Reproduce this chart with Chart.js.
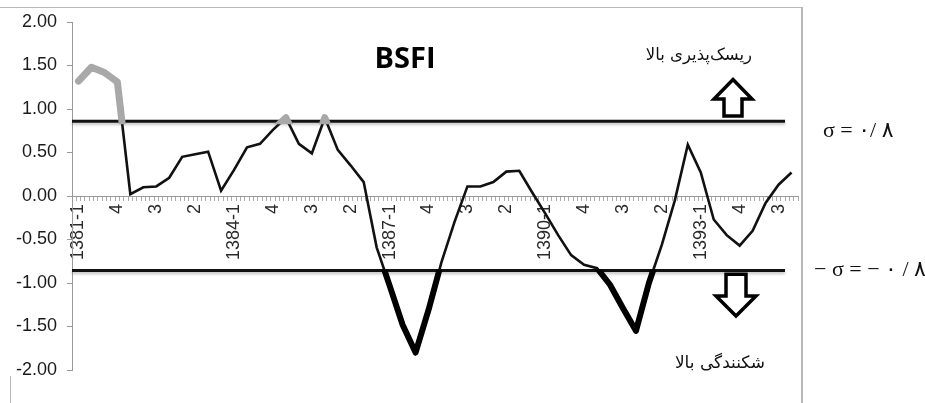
<!DOCTYPE html>
<html>
<head>
<meta charset="utf-8">
<title>BSFI</title>
<script src="https://cdn.jsdelivr.net/npm/chart.js@4.4.1/dist/chart.umd.min.js"></script>
<style>
  body { margin: 0; background: #fff; }
  .wrap { position: relative; width: 925px; height: 403px; overflow: hidden; }
  canvas { position: absolute; left: 0; top: 0; }
  .frame { position: absolute; left: 0; top: 7px; width: 801px; height: 420px;
           border-top: 1px solid #b8b8b8; border-right: 2px solid #b8b8b8; }
  .frame-left { position: absolute; left: 10px; top: 376px; height: 40px; border-left: 1px solid #b8b8b8; }
  .note { position: absolute; white-space: nowrap; line-height: 1; color: #111; }
  #title { left: 405px; top: 37px; transform: translateX(-50%); font: 700 29px 'Open Sans', sans-serif; color: #000; }
  #riskUp { right: 173px; top: 45px; font: 16.5px 'DejaVu Sans', sans-serif; direction: rtl; }
  #fragile { right: 160px; top: 352px; font: 17px 'DejaVu Sans', sans-serif; direction: rtl; }
  #sigUp { left: 823px; top: 117px; font: 22px 'Liberation Serif', 'DejaVu Sans', serif; }
  #sigDown { left: 814px; top: 256px; font: 22px 'Liberation Serif', 'DejaVu Sans', serif; }
</style>
</head>
<body>
<div class="wrap">
  <canvas id="chart" width="925" height="403"></canvas>
  <div class="frame"></div>
  <div class="frame-left"></div>
  <div class="note" id="title">BSFI</div>
  <div class="note" id="riskUp">ریسک‌پذیری بالا</div>
  <div class="note" id="fragile">شکنندگی بالا</div>
  <div class="note" id="sigUp"><bdo dir="ltr">σ = ۰/ ۸</bdo></div>
  <div class="note" id="sigDown"><bdo dir="ltr">− σ = − ۰ / ۸</bdo></div>
</div>
<script>
// --- Data ---
const years = [1381, 1382, 1383, 1384, 1385, 1386, 1387, 1388, 1389, 1390, 1391, 1392, 1393, 1394];
const quarterNames = ['1', '2', '3', '4'];
const categories = years.flatMap(y => quarterNames.map(q => `${y}-${q}`));

const bsfi = [
    1.32, 1.48, 1.42, 1.31, 0.02, 0.10, 0.11, 0.21, 0.45, 0.48, 0.51, 0.06,
    0.30, 0.56, 0.60, 0.76, 0.90, 0.60, 0.49, 0.90, 0.53, 0.35, 0.16, -0.59,
    -1.03, -1.48, -1.80, -1.31, -0.76, -0.30, 0.11, 0.11, 0.16, 0.28, 0.29, 0.04,
    -0.20, -0.45, -0.68, -0.79, -0.83, -1.02, -1.29, -1.55, -1.00, -0.56, -0.05, 0.59,
    0.27, -0.27, -0.45, -0.57, -0.40, -0.08, 0.13, 0.27
];

// every third quarter gets a label, in the order printed on the axis
const shownTicks = ['1381-1', '4', '3', '2', '1384-1', '4', '3', '2', '1387-1', '4', '3', '2',
                    '1390-1', '4', '3', '2', '1393-1', '4', '3'];
const tickEvery = 3;

const yRange = [-2, 2];
const yStep = 0.5;
const sigmaUp = 0.86;
const sigmaDown = -0.855;

// --- Plugins ---
// clip the highlight copies of the line to the area beyond each sigma band
const bandClip = {
    id: 'bandClip',
    beforeDatasetDraw(chart, args) {
        const band = chart.data.datasets[args.index].band;
        if (!band) return;
        const { ctx, chartArea: a, scales: { y } } = chart;
        ctx.save();
        ctx.beginPath();
        if (band === 'up') {
            const yp = y.getPixelForValue(sigmaUp) + 3;
            ctx.rect(a.left - 10, 0, a.width + 20, yp);
        } else {
            const yp = y.getPixelForValue(sigmaDown) - 1;
            ctx.rect(a.left - 10, yp, a.width + 20, chart.height - yp);
        }
        ctx.clip();
    },
    afterDatasetDraw(chart, args) {
        if (chart.data.datasets[args.index].band) chart.ctx.restore();
    }
};

const sigmaLines = {
    id: 'sigmaLines',
    beforeDatasetsDraw(chart) {
        const { ctx, chartArea: a, scales: { y } } = chart;
        ctx.save();
        ctx.strokeStyle = '#111';
        ctx.lineWidth = 3;
        ctx.shadowColor = 'rgba(0,0,0,0.25)';
        ctx.shadowBlur = 3;
        ctx.shadowOffsetY = 2;
        [sigmaUp, sigmaDown].forEach(v => {
            const py = y.getPixelForValue(v);
            ctx.beginPath();
            ctx.moveTo(a.left, py);
            ctx.lineTo(a.right - 13, py);
            ctx.stroke();
        });
        ctx.restore();
    }
};

const blockArrow = (ctx, cx, tipY, baseY, endY, headHalf, shaftHalf) => {
    ctx.beginPath();
    ctx.moveTo(cx, tipY);
    ctx.lineTo(cx + headHalf, baseY);
    ctx.lineTo(cx + shaftHalf, baseY);
    ctx.lineTo(cx + shaftHalf, endY);
    ctx.lineTo(cx - shaftHalf, endY);
    ctx.lineTo(cx - shaftHalf, baseY);
    ctx.lineTo(cx - headHalf, baseY);
    ctx.closePath();
    ctx.fill();
    ctx.stroke();
};

const arrows = {
    id: 'arrows',
    afterDatasetsDraw(chart) {
        const { ctx, chartArea: a, scales: { y } } = chart;
        ctx.save();
        ctx.fillStyle = '#fff';
        ctx.strokeStyle = '#000';
        ctx.lineWidth = 3.5;
        ctx.lineJoin = 'miter';
        blockArrow(ctx, a.right - 65, y.getPixelForValue(1.34), y.getPixelForValue(1.115), y.getPixelForValue(0.92), 19, 9);
        blockArrow(ctx, a.right - 62, y.getPixelForValue(-1.38), y.getPixelForValue(-1.15), y.getPixelForValue(-0.90), 20, 10);
        ctx.restore();
    }
};

// --- Chart ---
const ctx = document.getElementById('chart').getContext('2d');
new Chart(ctx, {
    type: 'line',
    data: {
        labels: categories,
        datasets: [
            { data: bsfi, borderColor: '#111', borderWidth: 2.6, order: 2 },
            { data: bsfi, band: 'up', borderColor: '#a8a8a8', borderWidth: 7, borderCapStyle: 'round', borderJoinStyle: 'round', order: 1 },
            { data: bsfi, band: 'down', borderColor: '#000', borderWidth: 6, borderCapStyle: 'round', borderJoinStyle: 'round', order: 1 }
        ]
    },
    options: {
        responsive: false,
        animation: false,
        layout: { padding: { top: 22, right: 127, bottom: 33, left: 0 } },
        elements: { point: { radius: 0, hoverRadius: 0 }, line: { tension: 0, fill: false } },
        plugins: { legend: { display: false }, tooltip: { enabled: false } },
        scales: {
            x: {
                type: 'category',
                position: { y: 0 },
                offset: true,
                grid: { display: false, drawTicks: false },
                border: { display: false },
                ticks: {
                    autoSkip: false,
                    minRotation: 90,
                    maxRotation: 90,
                    padding: 8,
                    color: '#2a2a2a',
                    font: { family: 'Liberation Sans', size: 18 },
                    callback: (value, index) => index % tickEvery === 0 ? shownTicks[index / tickEvery] : ''
                }
            },
            x2: {
                type: 'linear',
                position: { y: 0 },
                min: -0.5,
                max: categories.length - 0.5,
                grid: { drawOnChartArea: false, drawTicks: true, tickLength: 4, color: '#aaa' },
                border: { display: true, color: '#999' },
                ticks: { display: false, autoSkip: false, stepSize: 1 / 3 }
            },
            y: {
                min: yRange[0],
                max: yRange[1],
                afterFit: (scale) => { scale.width = 72; },
                grid: { drawOnChartArea: false, drawTicks: true, tickLength: 5, color: '#999' },
                border: { display: true, color: '#999' },
                ticks: {
                    stepSize: yStep,
                    padding: 10,
                    color: '#1a1a1a',
                    font: { family: 'Liberation Sans', size: 18 },
                    callback: (v) => v.toFixed(2)
                }
            }
        }
    },
    plugins: [bandClip, sigmaLines, arrows]
});
</script>
</body>
</html>
